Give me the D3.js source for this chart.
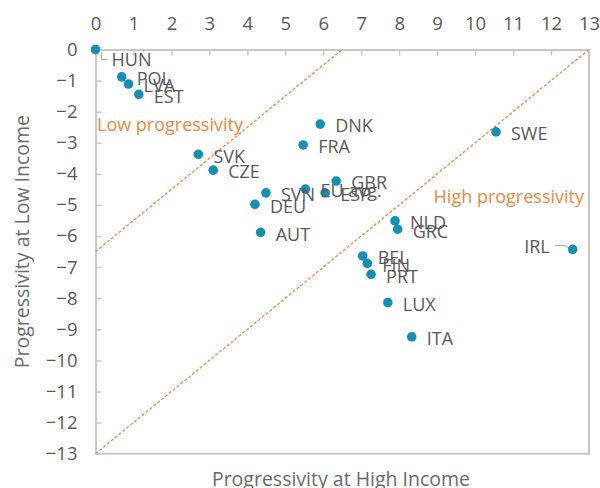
<!DOCTYPE html>
<html lang="en">
<head>
  <meta charset="UTF-8">
  <title>Progressivity at Low vs High Income</title>
  <script src="https://d3js.org/d3.v7.min.js"></script>
  <style>
    body {
      margin: 0;
      padding: 0;
      background: #fff;
      font-family: "Open Sans", "Noto Sans", sans-serif;
    }
    svg text {
      fill: #595959;
    }
  </style>
</head>
<body>
  <div id="chart"></div>
  <script>
    // data
    const countries = ["HUN", "POL", "LVA", "EST", "DNK", "FRA", "SVK", "CZE", "GBR", "SVN", "EU avg.", "ESP",
      "DEU", "AUT", "SWE", "NLD", "GRC", "IRL", "BEL", "FIN", "PRT", "LUX", "ITA"];
    const highIncome = [0, 0.69, 0.87, 1.14, 5.92, 5.47, 2.71, 3.10, 6.34, 4.49, 5.53, 6.05,
      4.20, 4.35, 10.55, 7.89, 7.96, 12.57, 7.04, 7.16, 7.26, 7.70, 8.33];
    const lowIncome = [0, -0.88, -1.11, -1.44, -2.40, -3.07, -3.37, -3.88, -4.23, -4.61, -4.49, -4.61,
      -4.98, -5.88, -2.65, -5.51, -5.78, -6.43, -6.64, -6.88, -7.23, -8.14, -9.24];

    const xTicks = d3.range(0, 14);
    const yTicks = d3.range(0, -14, -1);

    // dashed reference lines: low = high + intercept
    const guideIntercepts = [-6.5, -13];

    const width = 600;
    const height = 488;
    const orange = "#F0883E";
    const teal = "#1590B3";

    const x = d3.scaleLinear().domain([0, 13]).range([95.5, 589]);
    const y = d3.scaleLinear().domain([0, -13]).range([49.5, 453.7]);

    const svg = d3.select("#chart")
      .append("svg")
      .attr("width", width)
      .attr("height", height);

    // plot frame (right + bottom)
    svg.append("path")
      .attr("d", `M${x(0)},${y(-13)}H${x(13)}V${y(0)}`)
      .attr("fill", "none")
      .attr("stroke", "#c8c8c8")
      .attr("stroke-width", 2);

    // top axis (x)
    const xAxis = svg.append("g")
      .attr("transform", `translate(0,${y(0)})`)
      .call(d3.axisTop(x).tickValues(xTicks).tickSizeInner(-6).tickSizeOuter(0).tickPadding(20));
    // left axis (y)
    const yAxis = svg.append("g")
      .attr("transform", `translate(${x(0)},0)`)
      .call(d3.axisLeft(y).tickValues(yTicks).tickSizeInner(-6).tickSizeOuter(0).tickPadding(18));

    [xAxis, yAxis].forEach(ax => {
      ax.select(".domain").attr("stroke", "#c8c8c8").attr("stroke-width", 2);
      ax.selectAll(".tick line").attr("stroke", "#c8c8c8").attr("stroke-width", 1.5);
      ax.selectAll(".tick text")
        .attr("font-family", "Open Sans, sans-serif")
        .attr("font-size", 18.5)
        .attr("fill", "#6b6b6b");
    });

    // guide lines
    svg.selectAll(".guide")
      .data(guideIntercepts)
      .join("line")
      .attr("class", "guide")
      .attr("x1", x(0))
      .attr("y1", b => y(b))
      .attr("x2", b => x(-b))
      .attr("y2", y(0))
      .attr("stroke", orange)
      .attr("stroke-width", 1.3)
      .attr("stroke-dasharray", "3,2");

    svg.append("text")
      .attr("x", 97)
      .attr("y", 131)
      .attr("font-size", 18)
      .style("fill", orange)
      .text("Low progressivity");

    svg.append("text")
      .attr("x", 584)
      .attr("y", 203)
      .attr("text-anchor", "end")
      .attr("font-size", 18)
      .style("fill", orange)
      .text("High progressivity");

    const points = countries.map((c, i) => ({ name: c, hx: highIncome[i], lx: lowIncome[i] }));

    // labels moved away from their points (pixel offsets + leader)
    const labelShift = {
      "HUN": { dx: 16, dy: 10, anchor: "start", leader: [[6, 3], [6, 10], [12, 10]] },
      "IRL": { dx: -23, dy: -3, anchor: "end", leader: [[-18, -4], [-8, -4], [-3, -1]] }
    };

    // leaders
    points.filter(d => labelShift[d.name]).forEach(d => {
      const s = labelShift[d.name];
      svg.append("path")
        .attr("d", d3.line()(s.leader.map(p => [x(d.hx) + p[0], y(d.lx) + p[1]])))
        .attr("fill", "none")
        .attr("stroke", "#a6a6a6")
        .attr("stroke-width", 1);
    });

    svg.selectAll(".dot")
      .data(points)
      .join("circle")
      .attr("class", "dot")
      .attr("cx", d => x(d.hx))
      .attr("cy", d => y(d.lx))
      .attr("r", 4.8)
      .attr("fill", teal);

    svg.selectAll(".lbl")
      .data(points)
      .join("text")
      .attr("class", "lbl")
      .attr("x", d => x(d.hx) + (labelShift[d.name] ? labelShift[d.name].dx : 15))
      .attr("y", d => y(d.lx) + (labelShift[d.name] ? labelShift[d.name].dy : 2))
      .attr("dy", "0.35em")
      .attr("text-anchor", d => labelShift[d.name] ? labelShift[d.name].anchor : "start")
      .attr("font-size", 18)
      .text(d => d.name);

    // axis titles
    svg.append("text")
      .attr("transform", `translate(29,${(y(-13) + y(0)) / 2 - 10}) rotate(-90)`)
      .attr("text-anchor", "middle")
      .attr("font-size", 19.5)
      .style("fill", "#6b6b6b")
      .text("Progressivity at Low Income");

    svg.append("text")
      .attr("x", 341)
      .attr("y", 486)
      .attr("text-anchor", "middle")
      .attr("font-size", 19.5)
      .style("fill", "#6b6b6b")
      .text("Progressivity at High Income");
  </script>
</body>
</html>
